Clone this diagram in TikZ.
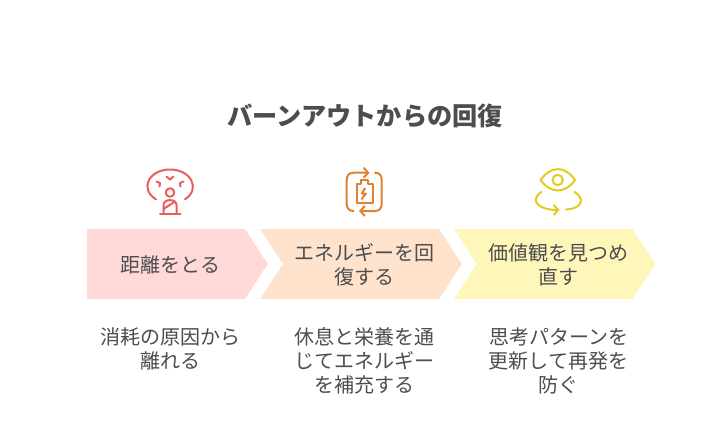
\documentclass[tikz,border=0pt]{standalone}
\usepackage{fontspec}
\setmainfont{Noto Sans CJK JP}
\usetikzlibrary{positioning, arrows.meta}
\definecolor{text-grey}{HTML}{4D4D4D}
\definecolor{step-red}{HTML}{FFD8D8}
\definecolor{step-orange}{HTML}{FFE2CC}
\definecolor{step-yellow}{HTML}{FFF7BA}
\definecolor{icon-red}{HTML}{E85D5D}
\definecolor{icon-orange}{HTML}{E0812F}
\definecolor{icon-yellow}{HTML}{E5CB1F}
\tikzset{
	title/.style={text=text-grey, font=\bfseries\fontsize{25.2}{30}\selectfont},
	body/.style={text=text-grey, align=center, inner sep=0pt, font=\fontsize{20}{24}\selectfont},
	icon/.style={line width=2pt, line cap=round, line join=round},
	tip/.style={-{Straight Barb[length=4.5pt, width=10pt, line width=2pt]}}
}
\begin{document}
\begin{tikzpicture}[x=1pt, y=-1pt]
	\useasboundingbox[fill=white] (0,0) rectangle (728,444);
	\node[title] (heading) at (365,115.5) {バーンアウトからの回復};
	% steps
	\fill[step-red] (87,229) -- (245,229) -- (267.7,264) -- (245,299) -- (87,299) -- cycle;
	\fill[step-orange] (260,229) -- (439,229) -- (461.7,264) -- (439,299) -- (260,299) -- (283,264) -- cycle;
	\fill[step-yellow] (454,229) -- (632.3,229) -- (655.7,264) -- (632.3,299) -- (454,299) -- (476.7,264) -- cycle;
	\node[body] (step1) at (170,265) {距離をとる};
	\node[body] (step2) at (364.5,265) {エネルギーを回\\復する};
	\node[body] (step3) at (558.5,265) {価値観を見つめ\\直す};
	\node[body] (note1) at (170,348.5) {消耗の原因から\\離れる};
	\node[body] (note2) at (364.5,360.5) {休息と栄養を通\\じてエネルギー\\を補充する};
	\node[body] (note3) at (558.5,360.5) {思考パターンを\\更新して再発を\\防ぐ};
	% icon of step 1
	\draw[icon, icon-red] (156,199.3) .. controls (139,189) and (149,169.5) .. (170,169.5)
		.. controls (191,169.5) and (201,189) .. (185,199.3);
	\draw[icon, icon-red] (166.5,176.5) -- (170,179.5) -- (173.5,176.5);
	\draw[icon, icon-red] (156.5,181.5) -- (160,183) -- (159.5,186.5);
	\draw[icon, icon-red] (183.5,181.5) -- (180,183) -- (180.5,186.5);
	\draw[icon, icon-red] (170,192.5) circle (4.3);
	\draw[icon, icon-red] (163.5,213) -- (163.5,205) .. controls (163.5,198.5) and (176.5,198.5) .. (176.5,205) -- (176.5,213);
	\draw[icon, icon-red] (163.5,209) -- (175,201.5);
	\draw[icon, icon-red] (160,214) -- (180.5,214);
	% icon of step 2
	\draw[icon, icon-orange, tip] (353.5,211) .. controls (349,211) and (346.7,208) .. (346.7,204) -- (346.7,180)
		.. controls (346.7,175.5) and (349,172.7) .. (353.5,172.7) -- (369.5,172.7);
	\draw[icon, icon-orange, tip] (375,172.7) .. controls (379.5,172.7) and (381.7,175.5) .. (381.7,180) -- (381.7,204)
		.. controls (381.7,208) and (379.5,211) .. (375,211) -- (359,211);
	\draw[icon, icon-orange] (356.7,183.5) -- (360.7,183.5) -- (360.7,180) -- (368.3,180) -- (368.3,183.5) -- (372.7,183.5) -- (372.7,202.7) -- (356.7,202.7) -- cycle;
	\draw[icon, icon-orange] (365,188.5) -- (361.7,193.5) -- (366,193.5) -- (361.7,199);
	% icon of step 3
	\draw[icon, icon-yellow] (540.5,180) .. controls (551,165.5) and (565,165.5) .. (575,180)
		.. controls (565,194) and (551,194) .. (540.5,180) -- cycle;
	\draw[icon, icon-yellow] (557.7,180) circle (5.2);
	\draw[icon, icon-yellow, tip] (541.5,192) .. controls (529,200) and (538,210) .. (559.5,210);
	\draw[icon, icon-yellow] (574.5,192) .. controls (587,200) and (580,209) .. (566,209.5);
\end{tikzpicture}
\end{document}
